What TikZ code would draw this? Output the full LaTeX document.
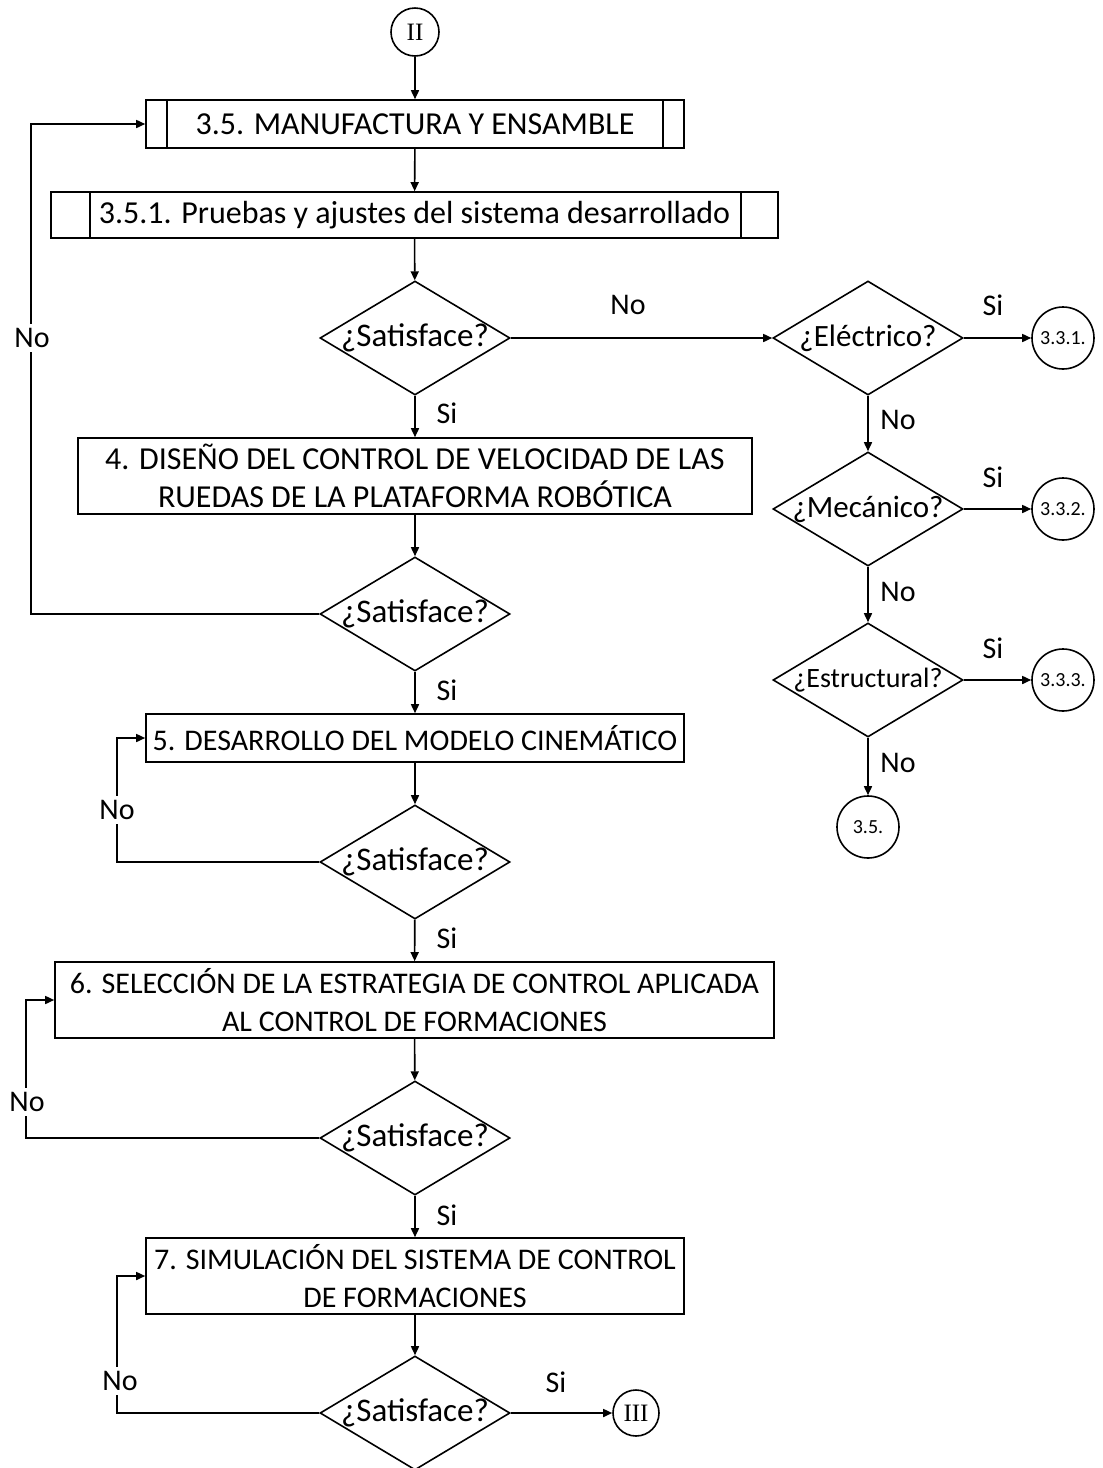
\documentclass[tikz,border=0pt]{standalone}
\usepackage{fontspec}
\setmainfont{Carlito}
\newfontfamily\numfont{Liberation Serif}
\usetikzlibrary{shapes.geometric,arrows.meta}

\begin{document}
\begin{tikzpicture}[x=1pt,y=-1pt,
  line width=1.6pt,
  arr/.style={-{Triangle[length=9pt,width=8pt]}},
  procbox/.style={draw,rectangle,inner sep=0pt,align=center,font=\fontsize{32}{38}\selectfont},
  narrowtext/.style={font=\fontsize{30}{38}\selectfont},
  decision/.style={draw,diamond,inner sep=0pt,minimum width=190pt,minimum height=114pt},
  dtext/.style={font=\fontsize{31}{34}\selectfont,inner sep=0pt},
  qtext/.style={dtext,font=\fontsize{33}{34}\selectfont},
  conn/.style={draw,circle,inner sep=0pt,minimum size=62pt,font=\fontsize{20}{22}\selectfont},
  roman/.style={draw,circle,inner sep=0pt,minimum size=48pt,font=\numfont\fontsize{25}{26}\selectfont},
  lbl/.style={font=\fontsize{30}{32}\selectfont,inner sep=1pt},
  gap/.style={lbl,fill=white,inner sep=4pt}]
\useasboundingbox (0,0) rectangle (1103,1468);

% main column
\node[roman] (c2) at (415,32) {II};
\node[procbox,minimum width=538pt,minimum height=48pt] (b35) at (415,124) {3.5. MANUFACTURA Y ENSAMBLE};
\draw ([xshift=22pt]b35.north west) -- ([xshift=22pt]b35.south west);
\draw ([xshift=-22pt]b35.north east) -- ([xshift=-22pt]b35.south east);
\node[procbox,minimum width=727pt,minimum height=46pt] (b351) at (414.5,215) {3.5.1. Pruebas y ajustes del sistema desarrollado};
\draw ([xshift=40pt]b351.north west) -- ([xshift=40pt]b351.south west);
\draw ([xshift=-38pt]b351.north east) -- ([xshift=-38pt]b351.south east);
\node[decision] (d1) at (415,338) {};
\node[qtext] at (d1) {¿Satisface?};
\node[procbox,minimum width=674pt,minimum height=76pt] (b4) at (415,476) {4. DISEÑO DEL CONTROL DE VELOCIDAD DE LAS\\RUEDAS DE LA PLATAFORMA ROBÓTICA};
\node[decision] (d2) at (415,614) {};
\node[qtext] at (d2) {¿Satisface?};
\node[procbox,narrowtext,minimum width=538pt,minimum height=48pt] (b5) at (415,738) {5. DESARROLLO DEL MODELO CINEMÁTICO};
\node[decision] (d3) at (415,862) {};
\node[qtext] at (d3) {¿Satisface?};
\node[procbox,narrowtext,minimum width=719pt,minimum height=76pt] (b6) at (414.5,1000) {6. SELECCIÓN DE LA ESTRATEGIA DE CONTROL APLICADA\\AL CONTROL DE FORMACIONES};
\node[decision] (d4) at (415,1138) {};
\node[qtext] at (d4) {¿Satisface?};
\node[procbox,narrowtext,minimum width=538pt,minimum height=76pt] (b7) at (415,1276) {7. SIMULACIÓN DEL SISTEMA DE CONTROL\\DE FORMACIONES};
\node[decision] (d5) at (415,1413) {};
\node[qtext] at (d5) {¿Satisface?};
\node[roman,minimum size=46pt] (c3) at (636,1413) {III};

% fault branch
\node[decision] (de) at (868,338) {};
\node[dtext] at (de) {¿Eléctrico?};
\node[decision] (dm) at (868,509) {};
\node[dtext] at (dm) {¿Mecánico?};
\node[decision] (ds) at (868,680) {};
\node[dtext,font=\fontsize{28}{30}\selectfont] at (ds) {¿Estructural?};
\node[conn] (c331) at (1063,338) {3.3.1.};
\node[conn] (c332) at (1063,509) {3.3.2.};
\node[conn] (c333) at (1063,680) {3.3.3.};
\node[conn] (c35) at (868,827) {3.5.};

% main flow
\draw[arr] (c2) -- (b35);
\draw[arr] (b35) -- (b351);
\draw[arr] (b351) -- (d1);
\draw[arr] (d1) -- (b4);
\draw[arr] (b4) -- (d2);
\draw[arr] (d2) -- (b5);
\draw[arr] (b5) -- (d3);
\draw[arr] (d3) -- (b6);
\draw[arr] (b6) -- (d4);
\draw[arr] (d4) -- (b7);
\draw[arr] (b7) -- (d5);
\draw[arr] (d5) -- (c3);
\node[lbl] at (447,413) {Si};
\node[lbl] at (447,690) {Si};
\node[lbl] at (447,938) {Si};
\node[lbl] at (447,1215) {Si};
\node[lbl] at (556,1382) {Si};

% return loops
\draw[arr] (d2.west) -- ++(-288pt,0) |- (b35.west);
\node[gap] at (32,338) {No};
\draw[arr] (d3.west) -- ++(-202pt,0) |- (b5.west);
\node[gap] at (117,810) {No};
\draw[arr] (d4.west) -- ++(-293pt,0) |- (b6.west);
\node[gap] at (27,1102) {No};
\draw[arr] (d5.west) -- ++(-202pt,0) |- (b7.west);
\node[gap] at (120,1381) {No};

% fault branch connectors
\draw[arr] (d1) -- (de);
\node[lbl] at (628,305) {No};
\draw[arr] (de) -- (c331);
\draw[arr] (dm) -- (c332);
\draw[arr] (ds) -- (c333);
\node[lbl] at (993,305) {Si};
\node[lbl] at (993,477) {Si};
\node[lbl] at (993,648) {Si};
\draw[arr] (de) -- (dm);
\draw[arr] (dm) -- (ds);
\draw[arr] (ds) -- (c35);
\node[lbl] at (898,420) {No};
\node[lbl] at (898,592) {No};
\node[lbl] at (898,763) {No};
\end{tikzpicture}
\end{document}
